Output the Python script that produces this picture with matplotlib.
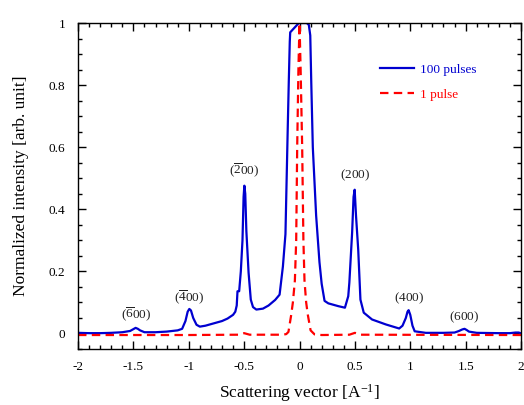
import matplotlib
matplotlib.use("Agg")
import matplotlib.pyplot as plt
from matplotlib.ticker import MultipleLocator, FixedLocator, FuncFormatter

plt.rcParams['font.family'] = ['Liberation Serif', 'DejaVu Serif']
plt.rcParams['mathtext.fontset'] = 'custom'
plt.rcParams['mathtext.rm'] = 'Liberation Serif'
plt.rcParams['mathtext.it'] = 'Liberation Serif:italic'

# 100 pulses (blue)
q_100 = [-2.0, -1.9, -1.8, -1.7, -1.6, -1.53, -1.5, -1.48, -1.46, -1.44, -1.4, -1.3, -1.2, -1.1,
         -1.06, -1.03, -1.01, -0.995, -0.98, -0.96, -0.93, -0.9, -0.85, -0.8, -0.7, -0.65, -0.6,
         -0.58, -0.567, -0.56, -0.545, -0.53, -0.515, -0.505, -0.498, -0.49, -0.48,
         -0.46, -0.44, -0.42, -0.39, -0.33, -0.28, -0.22, -0.18, -0.15, -0.127,
         -0.106, -0.097, -0.088, -0.084, -0.045, -0.006, 0.065, 0.084, 0.097, 0.106,
         0.12, 0.15, 0.18, 0.2, 0.226, 0.26, 0.30, 0.35, 0.41, 0.44, 0.45, 0.475,
         0.488, 0.498, 0.51, 0.53, 0.55, 0.58, 0.655, 0.78, 0.9, 0.93, 0.96, 0.975, 0.985,
         1.0, 1.02, 1.04, 1.14, 1.3, 1.4, 1.44, 1.47, 1.49, 1.51, 1.53, 1.6, 1.8, 1.9, 1.95,
         1.98, 2.0]
i_100 = [0.002, 0.001, 0.001, 0.002, 0.004, 0.008, 0.014, 0.018, 0.015, 0.010, 0.004, 0.004, 0.006, 0.010,
         0.015, 0.040, 0.070, 0.079, 0.074, 0.050, 0.028, 0.022, 0.025, 0.030, 0.040, 0.048, 0.060,
         0.070, 0.090, 0.136, 0.136, 0.200, 0.300, 0.440, 0.476, 0.450, 0.330,
         0.196, 0.109, 0.085, 0.077, 0.080, 0.090, 0.108, 0.125, 0.216, 0.320,
         0.667, 0.810, 0.940, 0.970, 0.985, 1.000, 1.000, 0.994, 0.960, 0.810,
         0.600, 0.380, 0.230, 0.160, 0.105, 0.097, 0.093, 0.088, 0.083, 0.120, 0.164, 0.325,
         0.440, 0.463, 0.380, 0.270, 0.109, 0.067, 0.045, 0.029, 0.016, 0.025, 0.050, 0.070, 0.075,
         0.060, 0.025, 0.007, 0.002, 0.002, 0.003, 0.008, 0.013, 0.015, 0.011, 0.006, 0.002, 0.001, 0.001, 0.003,
         0.003, 0.000]

# 1 pulse (red)
q_1 = [-2.0, -1.0, -0.55, -0.5, -0.45, -0.15, -0.12, -0.1, -0.075, -0.06, -0.042, -0.03,
       -0.021, -0.01, 0.0, 0.01, 0.024, 0.035, 0.045, 0.06, 0.075, 0.1, 0.136, 0.2,
       0.45, 0.5, 0.55, 2.0]
i_1 = [-0.005, -0.005, -0.004, 0.001, -0.004, -0.004, -0.002, 0.005, 0.060, 0.100, 0.170, 0.300,
       0.600, 0.850, 1.000, 0.850, 0.600, 0.300, 0.170, 0.100, 0.060, 0.010, -0.003, -0.005,
       -0.004, 0.002, -0.004, -0.005]

peak_labels = [r'$(\overline{6}00)$', r'$(\overline{4}00)$', r'$(\overline{2}00)$',
               r'$(200)$', r'$(400)$', r'$(600)$']
peak_q = [-1.48, -1.0, -0.5, 0.5, 0.99, 1.49]
peak_y = [0.061, 0.116, 0.527, 0.51, 0.113, 0.051]

xticks = [-2, -1.5, -1, -0.5, 0, 0.5, 1, 1.5, 2]
yticks = [0, 0.2, 0.4, 0.6, 0.8, 1.0]

fig = plt.figure(figsize=(5.24, 4.05), dpi=100)
ax = fig.add_axes([0.1489, 0.1383, 0.8454, 0.8049])

ax.plot(q_100, i_100, color='#0000d0', lw=1.6, label='100 pulses')
ax.plot(q_1, i_1, color='#ff0000', lw=1.6, ls=(0, (3.8, 2.4)), label='1 pulse')

for lab, qx, yy in zip(peak_labels, peak_q, peak_y):
    ax.text(qx, yy, lab, ha='center', va='center', fontsize=9.5, color='#222222')

ax.set_xlim(-2, 2)
ax.set_ylim(-0.05, 1.0)
ax.xaxis.set_major_locator(FixedLocator(xticks))
ax.xaxis.set_minor_locator(MultipleLocator(0.1))
ax.yaxis.set_major_locator(FixedLocator(yticks))
ax.yaxis.set_minor_locator(MultipleLocator(0.05))

fmt = FuncFormatter(lambda v, p: ('%g' % v).replace('\u2212', '-'))
ax.xaxis.set_major_formatter(fmt)
ax.yaxis.set_major_formatter(fmt)

ax.tick_params(which='both', direction='in', top=True, right=True, labelsize=9.5,
               colors='black', width=1.0)
ax.tick_params(which='major', length=5.5, pad=9)
ax.tick_params(which='minor', length=3)
for s in ax.spines.values():
    s.set_linewidth(1.0)

ax.set_xlabel(r'Scattering vector [A$^{\mathregular{-1}}$]', fontsize=12.5, labelpad=6)
ax.set_ylabel('Normalized intensity [arb. unit]', fontsize=12.5, labelpad=14)

leg = ax.legend(loc='upper left', bbox_to_anchor=(0.682, 0.875), frameon=False,
                fontsize=9.5, handlelength=2.6, handletextpad=0.4, labelspacing=0.95,
                borderpad=0, borderaxespad=0, labelcolor='linecolor')

fig.savefig('out.png', dpi=100)
